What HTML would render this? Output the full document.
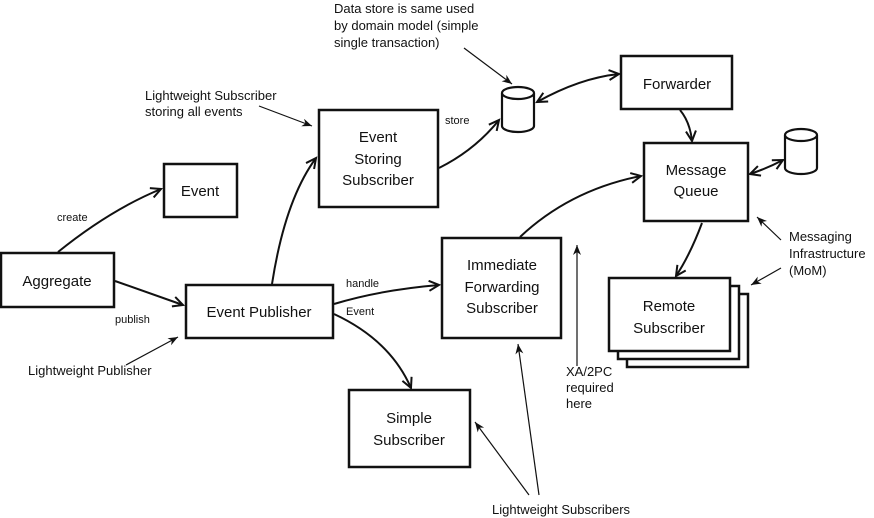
<!DOCTYPE html>
<html><head><meta charset="utf-8"><style>
html,body{margin:0;padding:0;background:#fff;}
svg{display:block;}
.n{font-family:"Liberation Sans",sans-serif;font-size:15px;fill:#111;text-anchor:middle;}
.e{font-family:"Liberation Sans",sans-serif;font-size:11px;fill:#111;}
.a{font-family:"Liberation Sans",sans-serif;font-size:13px;fill:#111;}
</style></head><body>
<svg width="874" height="518" viewBox="0 0 874 518" xmlns="http://www.w3.org/2000/svg">
<defs>
<marker id="o" markerWidth="14" markerHeight="14" refX="11" refY="6" orient="auto" markerUnits="userSpaceOnUse">
<path d="M1,1 L11,6 L1,11" fill="none" stroke="#111" stroke-width="2"/></marker>
<marker id="os" markerWidth="14" markerHeight="14" refX="11" refY="6" orient="auto-start-reverse" markerUnits="userSpaceOnUse">
<path d="M1,1 L11,6 L1,11" fill="none" stroke="#111" stroke-width="2"/></marker>
<marker id="f" markerWidth="12" markerHeight="10" refX="10" refY="4" orient="auto" markerUnits="userSpaceOnUse">
<path d="M0,0 L10,4 L0,8 L3,4 Z" fill="#111"/></marker>
</defs>
<g fill="#fff" stroke="#111" stroke-width="2.5">
<rect x="164" y="164" width="73" height="53"/>
<rect x="1" y="253" width="113" height="54"/>
<rect x="186" y="285" width="147" height="53"/>
<rect x="319" y="110" width="119" height="97"/>
<rect x="442" y="238" width="119" height="100"/>
<rect x="621" y="56" width="111" height="53"/>
<rect x="644" y="143" width="104" height="78"/>
<rect x="627" y="294" width="121" height="73"/>
<rect x="618" y="286" width="121" height="73"/>
<rect x="609" y="278" width="121" height="73"/>
<rect x="349" y="390" width="121" height="77"/>
</g>
<!-- cylinders -->
<g fill="#fff" stroke="#111" stroke-width="2.2">
<path d="M502,93 L502,126 A16,6 0 0 0 534,126 L534,93"/>
<ellipse cx="518" cy="93" rx="16" ry="6"/>
<path d="M785,135 L785,168 A16,6 0 0 0 817,168 L817,135"/>
<ellipse cx="801" cy="135" rx="16" ry="6"/>
</g>
<g class="n">
<text x="200" y="196">Event</text>
<text x="57" y="286">Aggregate</text>
<text x="259" y="317">Event Publisher</text>
<text x="378" y="142">Event</text><text x="378" y="164">Storing</text><text x="378" y="185">Subscriber</text>
<text x="502" y="270">Immediate</text><text x="502" y="292">Forwarding</text><text x="502" y="313">Subscriber</text>
<text x="677" y="89">Forwarder</text>
<text x="696" y="175">Message</text><text x="696" y="196">Queue</text>
<text x="669" y="311">Remote</text><text x="669" y="333">Subscriber</text>
<text x="409" y="423">Simple</text><text x="409" y="445">Subscriber</text>
</g>
<g fill="none" stroke="#111" stroke-width="2">
<path d="M58,252 Q110,210 161,189" marker-end="url(#o)"/>
<path d="M115,281 L183,305" marker-end="url(#o)"/>
<path d="M272,284 Q285,200 316,158" marker-end="url(#o)"/>
<path d="M334,304 Q380,290 439,285" marker-end="url(#o)"/>
<path d="M334,314 Q390,340 411,388" marker-end="url(#o)"/>
<path d="M439,168 Q475,150 499,120" marker-end="url(#o)"/>
<path d="M537,102 Q580,78 619,74" marker-start="url(#os)" marker-end="url(#o)"/>
<path d="M680,110 Q690,122 692,141" marker-end="url(#o)"/>
<path d="M520,237 Q570,190 641,176" marker-end="url(#o)"/>
<path d="M750,174 Q768,168 783,160" marker-start="url(#os)" marker-end="url(#o)"/>
<path d="M702,223 Q690,255 676,276" marker-end="url(#o)"/>
</g>
<g fill="none" stroke="#111" stroke-width="1.2">
<path d="M259,106 L312,126" marker-end="url(#f)"/>
<path d="M464,48 L512,84" marker-end="url(#f)"/>
<path d="M126,365 L178,337" marker-end="url(#f)"/>
<path d="M577,366 L577,245" marker-end="url(#f)"/>
<path d="M781,240 L757,217" marker-end="url(#f)"/>
<path d="M781,268 L751,285" marker-end="url(#f)"/>
<path d="M529,495 L475,422" marker-end="url(#f)"/>
<path d="M539,495 L518,344" marker-end="url(#f)"/>
</g>
<g class="e">
<text x="57" y="221">create</text>
<text x="115" y="323">publish</text>
<text x="346" y="287">handle</text>
<text x="346" y="315">Event</text>
<text x="445" y="124">store</text>
</g>
<g class="a">
<text x="334" y="13">Data store is same used</text>
<text x="334" y="30">by domain model (simple</text>
<text x="334" y="47">single transaction)</text>
<text x="145" y="100">Lightweight Subscriber</text>
<text x="145" y="116">storing all events</text>
<text x="28" y="375">Lightweight Publisher</text>
<text x="566" y="376">XA/2PC</text>
<text x="566" y="392">required</text>
<text x="566" y="408">here</text>
<text x="789" y="241">Messaging</text>
<text x="789" y="258">Infrastructure</text>
<text x="789" y="275">(MoM)</text>
<text x="492" y="514">Lightweight Subscribers</text>
</g>
</svg>
</body></html>
